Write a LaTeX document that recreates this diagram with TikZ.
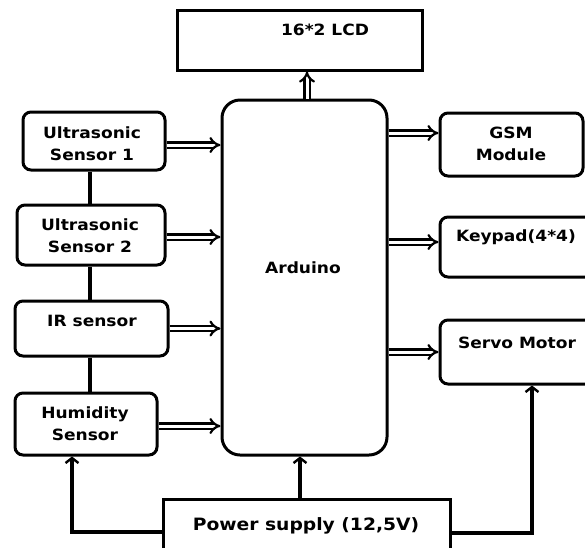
\documentclass[tikz,border=0pt]{standalone}
\usepackage{fontspec}
\setmainfont{DejaVu Sans}[FakeStretch=1.1]
\usetikzlibrary{arrows.meta,calc}
\begin{document}
\begin{tikzpicture}[x=1pt,y=-1pt,
  box/.style={draw, line width=3pt, rounded corners=8pt, inner sep=0pt},
  sqbox/.style={draw, line width=3pt, inner sep=0pt},
  txt/.style={font=\fontsize{15.5}{22}\selectfont\bfseries, align=center, inner sep=0pt},
  dbl/.style={line width=2.2pt, double=white, double distance=3pt, -{Implies[scale=1.35]}},
  sgl/.style={line width=3.4pt, -{Straight Barb[length=5pt,width=13pt,line width=2.4pt]}},
  link/.style={line width=3.2pt}]
\clip (0,0) rectangle (585,547);
\fill[white] (0,0) rectangle (585,547);
% boxes
\node[sqbox, minimum width=245pt, minimum height=60pt] (lcd) at (299.5,40) {};
\node[box, rounded corners=18pt, minimum width=165pt, minimum height=355pt] (ard) at (304.5,277.5) {};
\node[box, minimum width=142pt, minimum height=58pt] (us1) at (94,141) {};
\node[box, minimum width=148pt, minimum height=60pt] (us2) at (91,235) {};
\node[box, minimum width=153pt, minimum height=55pt] (ir) at (91.5,328.5) {};
\node[box, minimum width=142pt, minimum height=62pt] (hum) at (86,424) {};
\node[box, minimum width=143pt, minimum height=63pt] (gsm) at (511.5,144.5) {};
\node[box, minimum width=160pt, minimum height=60pt] (key) at (520,247) {};
\node[box, minimum width=160pt, minimum height=64pt] (srv) at (520,352) {};
\node[sqbox, minimum width=287pt, minimum height=66pt] (pwr) at (306.5,532) {};
% texts
\node[txt] (tlcd) at (325,30) {16*2 LCD};
\node[txt] (tard) at (303,268) {Arduino};
\node[txt] (tus1) at (92,144) {Ultrasonic\\Sensor 1};
\node[txt] (tus2) at (90,236) {Ultrasonic\\Sensor 2};
\node[txt] (tir) at (92,321) {IR sensor};
\node[txt] (thum) at (85,424) {Humidity\\Sensor};
\node[txt] (tgsm) at (511,144) {GSM\\Module};
\node[txt] (tkey) at (516,237) {Keypad(4*4)};
\node[txt] (tsrv) at (517,343) {Servo Motor};
\node[txt, font=\fontsize{17}{20}\selectfont\bfseries] (tpwr) at (306,526) {Power supply (12,5V)};
% vertical links between left sensors
\coordinate (lx) at (90,0);
\draw[link] (lx |- us1.south) -- (lx |- us2.north);
\draw[link] (lx |- us2.south) -- (lx |- ir.north);
\draw[link] (lx |- ir.south) -- (lx |- hum.north);
% sensors to Arduino
\coordinate (a1) at ([yshift=-4pt]us1.east);
\coordinate (a2) at ([yshift=-2pt]us2.east);
\coordinate (a3) at (ir.east);
\coordinate (a4) at ([yshift=-2pt]hum.east);
\draw[dbl] (a1) -- (a1 -| ard.west);
\draw[dbl] (a2) -- (a2 -| ard.west);
\draw[dbl] (a3) -- (a3 -| ard.west);
\draw[dbl] (a4) -- (a4 -| ard.west);
% Arduino to outputs
\coordinate (b1) at ([yshift=11.5pt]gsm.west);
\coordinate (b2) at ([yshift=5pt]key.west);
\coordinate (b3) at (srv.west);
\draw[dbl] (b1 -| ard.east) -- (b1);
\draw[dbl] (b2 -| ard.east) -- (b2);
\draw[dbl] (b3 -| ard.east) -- (b3);
% Arduino to LCD
\coordinate (c1) at ([xshift=2.5pt]ard.north);
\draw[dbl] (c1) -- (c1 |- lcd.south);
% power supply
\coordinate (p1) at ([xshift=-6.5pt]pwr.north);
\draw[sgl] (p1) -- (p1 |- ard.south);
\coordinate (p2) at ([xshift=-14pt]hum.south);
\draw[sgl] (pwr.west) -| (p2);
\coordinate (p3) at ([xshift=12pt]srv.south);
\draw[sgl] ([yshift=-1pt]pwr.east) -| (p3);
\end{tikzpicture}
\end{document}
